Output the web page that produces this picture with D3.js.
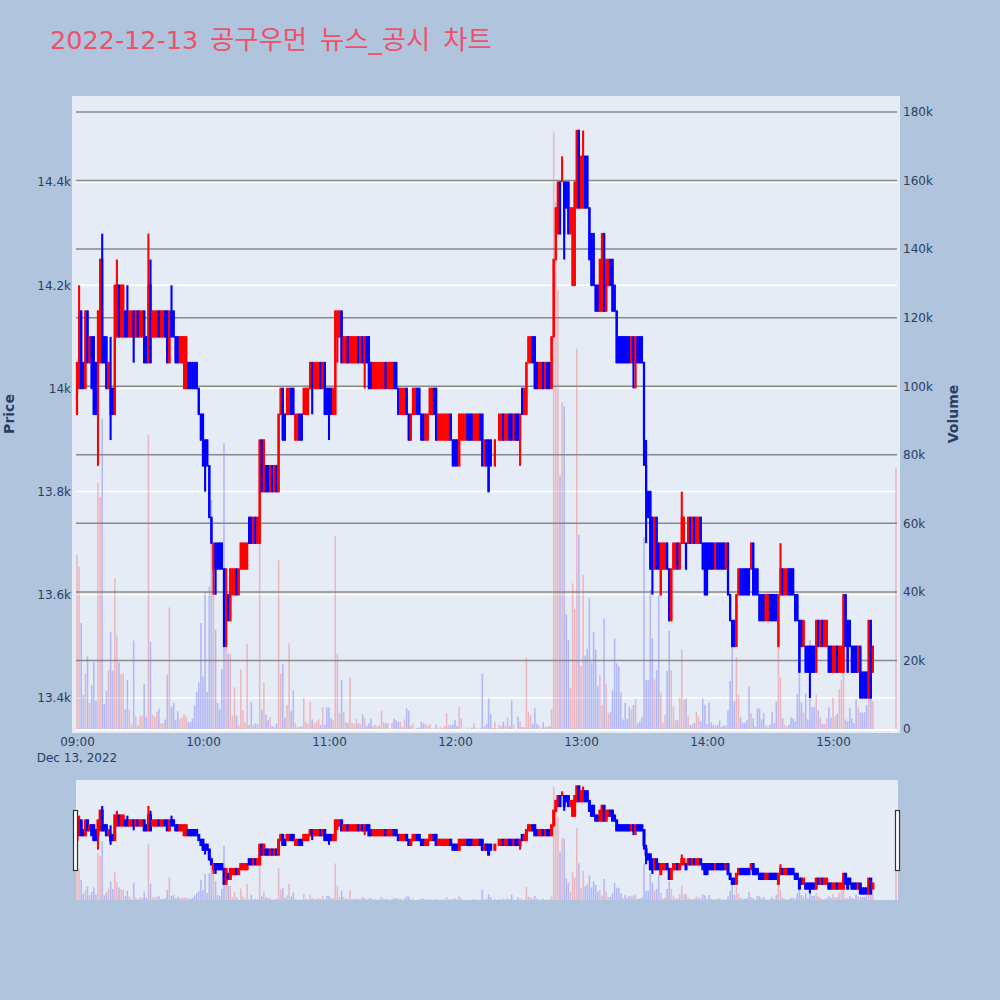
<!DOCTYPE html>
<html>
<head>
<meta charset="utf-8">
<script src="https://cdn.jsdelivr.net/npm/d3@7"></script>
<style>
  html, body { margin: 0; padding: 0; background: #B0C4DE; }
  svg { display: block; }
  text { font-family: "DejaVu Sans", "Noto Sans CJK KR", sans-serif; }
</style>
</head>
<body>
<div id="chart"></div>
<script>
const titleDate = "2022-12-13"
const titleName = "공구우먼 뉴스_공시 차트"
const dateLabel = "Dec 13, 2022"

const priceTicks = [13400, 13600, 13800, 14000, 14200, 14400]
const volumeTicks = [0, 20000, 40000, 60000, 80000, 100000, 120000, 140000, 160000, 180000]

// minutes after 09:00, the tape stops at 15:19 and prints once more at 15:30
const minutes = d3.range(380).concat([390])

const opens = [
  13950,14000,14150,14050,14000,14150,14050,14100,14100,14050,
  14000,14050,14250,14100,14100,14000,14000,14000,13950,14100,
  14200,14100,14100,14150,14150,14100,14100,14150,14100,14150,
  14100,14100,14150,14100,14050,14200,14100,14100,14100,14150,
  14100,14100,14150,14150,14050,14150,14150,14100,14100,14050,
  14050,14000,14000,14050,14050,14050,14050,14050,14000,13950,
  13950,13900,13900,13850,13750,13650,13700,13700,13700,13700,
  13650,13500,13600,13550,13600,13600,13650,13600,13650,13650,
  13650,13650,13750,13750,13700,13750,13700,13700,13900,13800,
  13850,13850,13800,13850,13800,13850,13800,13950,14000,13950,
  13950,13950,14000,14000,13900,13900,13950,13950,13950,13950,
  13950,14000,14050,14000,14000,14000,14050,14000,14050,14000,
  14000,14000,13950,13950,14100,14100,14150,14050,14050,14100,
  14050,14050,14050,14050,14100,14050,14100,14050,14100,14100,
  14050,14000,14000,14000,14000,14000,14000,14050,14000,14000,
  14000,14050,14050,14000,13950,13950,13950,14000,13950,13900,
  13950,13950,14000,14000,13950,13950,13900,13900,13950,13950,
  14000,14000,13900,13900,13900,13900,13900,13900,13950,13900,
  13900,13900,13850,13900,13900,13900,13950,13950,13950,13900,
  13900,13900,13950,13950,13850,13900,13900,13900,13900,13850,
  13900,13900,13900,13950,13900,13900,13950,13950,13900,13950,
  13950,13900,14000,13950,13950,14050,14050,14100,14100,14050,
  14000,14000,14050,14000,14050,14050,14000,14100,14250,14300,
  14400,14400,14400,14400,14400,14300,14200,14200,14350,14500,
  14350,14350,14450,14450,14350,14300,14300,14200,14200,14150,
  14150,14300,14150,14200,14250,14250,14200,14150,14100,14100,
  14100,14100,14100,14100,14050,14100,14050,14100,14100,14100,
  14050,13850,13800,13800,13750,13650,13750,13700,13600,13650,
  13650,13700,13650,13550,13650,13650,13700,13650,13700,13700,
  13700,13700,13750,13700,13750,13700,13700,13750,13700,13700,
  13700,13700,13700,13700,13650,13700,13700,13700,13700,13650,
  13700,13600,13550,13550,13500,13600,13650,13650,13650,13650,
  13650,13650,13700,13650,13650,13600,13600,13600,13550,13550,
  13600,13600,13600,13600,13500,13600,13650,13600,13600,13650,
  13650,13650,13600,13600,13550,13550,13500,13500,13500,13500,
  13500,13500,13450,13550,13500,13550,13500,13500,13500,13500,
  13450,13450,13500,13450,13450,13450,13600,13550,13550,13500,
  13500,13500,13450,13500,13450,13450,13450,13400,13550,13450,
  13550
]

const closes = [
  14050,14150,14000,14000,14150,14050,14100,14000,13950,13950,
  14150,14250,14050,14050,14000,14050,13950,13950,14200,14200,
  14100,14200,14200,14100,14100,14150,14150,14100,14150,14100,
  14150,14150,14050,14050,14200,14050,14150,14150,14150,14100,
  14150,14150,14100,14050,14150,14100,14100,14050,14050,14100,
  14100,14100,14100,14000,14000,14000,14000,14000,13950,13900,
  13850,13850,13850,13750,13700,13700,13650,13650,13650,13650,
  13500,13650,13550,13650,13650,13650,13600,13650,13700,13700,
  13700,13700,13700,13700,13750,13700,13750,13900,13800,13900,
  13800,13800,13850,13800,13850,13800,13950,14000,13900,13900,
  14000,14000,13950,13950,13950,13950,13900,13900,14000,14000,
  14000,14050,14000,14050,14050,14050,14000,14050,13950,13950,
  13950,13950,14000,14150,14150,14150,14050,14100,14100,14050,
  14100,14100,14100,14100,14050,14100,14050,14100,14050,14000,
  14000,14050,14050,14050,14050,14050,14050,14000,14050,14050,
  14050,14000,14000,13950,14000,14000,14000,13950,13900,13950,
  14000,14000,13950,13950,13900,13900,13950,13950,14000,14000,
  13950,13900,13950,13950,13950,13950,13950,13950,13900,13850,
  13850,13850,13950,13950,13950,13950,13900,13900,13900,13950,
  13950,13950,13900,13850,13900,13850,13800,13850,13900,13900,
  13900,13950,13950,13900,13950,13950,13900,13900,13950,13900,
  13900,13950,13950,14000,14050,14100,14100,14050,14000,14000,
  14050,14050,14000,14050,14000,14000,14100,14250,14350,14400,
  14300,14400,14300,14350,14300,14350,14350,14400,14500,14350,
  14450,14450,14350,14350,14250,14200,14200,14150,14150,14250,
  14300,14150,14250,14250,14200,14150,14150,14050,14050,14050,
  14050,14050,14050,14050,14100,14050,14100,14050,14050,14050,
  13900,13800,13750,13650,13650,13750,13650,13650,13700,13700,
  13700,13650,13550,13650,13700,13700,13650,13700,13750,13750,
  13650,13750,13700,13750,13700,13750,13750,13700,13650,13600,
  13600,13650,13650,13650,13700,13650,13650,13650,13650,13700,
  13600,13550,13500,13500,13600,13650,13600,13600,13600,13600,
  13600,13700,13600,13600,13600,13550,13550,13550,13600,13600,
  13550,13550,13550,13550,13600,13650,13600,13650,13650,13600,
  13600,13600,13550,13550,13450,13500,13550,13450,13450,13450,
  13450,13450,13550,13500,13550,13500,13550,13550,13450,13450,
  13500,13500,13450,13500,13500,13600,13500,13450,13500,13450,
  13450,13450,13500,13400,13400,13400,13400,13550,13400,13500,
  13550
]

// candles whose wick pokes out of the body: [index, price]
const highWicks = [[1,14200],[12,14300],[16,14100],[19,14250],[24,14200],[34,14300],[35,14250],[45,14200],
  [231,14450],[241,14500],[271,13900],[288,13800],[335,13700]]
const lowWicks = [[10,13850],[16,13900],[27,14050],[61,13800],[65,13600],[66,13600],[112,13950],[120,13900],
  [124,14050],[137,14000],[211,13850],[232,14250],[265,14000],[266,14000],[270,13850],[271,13700],[274,13600],[349,13400]]

const volumes = [
  50800,47300,30900,9900,16200,21200,7600,12800,19500,8200,
  71800,67700,90400,7300,11200,17200,28200,17000,43900,27300,
  19400,15900,16200,5800,14300,5600,1300,25800,3600,1000,
  3900,3900,13100,3500,85800,25400,4100,3600,5000,5900,
  1600,1700,2800,15700,35500,6400,7600,2600,5200,2900,
  3400,4300,3600,2200,2000,3100,6900,10800,13600,30900,
  15300,40000,10800,41500,66800,39600,28900,7600,5800,17500,
  83400,24000,22000,21900,3900,12200,3900,1200,17500,5400,
  1900,24800,1200,7800,1100,1700,1400,54300,5600,13600,
  4200,2600,3600,900,500,1600,49200,16200,18900,3300,
  7000,25000,5200,11300,1700,600,600,800,9200,2200,
  1500,7800,2800,1600,1900,2800,1200,6300,1300,6300,
  6300,3200,2600,56300,21900,4700,14400,5000,2000,1700,
  15000,1800,1500,3000,1700,1300,4300,3200,1000,1700,
  3000,900,1300,800,1000,5300,2000,1600,1700,100,
  1800,3000,2500,2000,2100,700,2800,6000,5300,900,
  1600,0,300,400,2100,1700,1500,800,1400,100,
  100,1300,200,700,300,900,4600,1200,1100,1300,
  2700,900,6500,3100,0,0,400,0,400,1700,
  400,0,300,16200,700,1500,8900,4300,300,2000,
  200,1200,900,2100,1000,3400,900,8300,1200,0,
  3600,2200,600,600,20700,5000,4000,1600,6000,1500,
  1000,100,2000,700,600,900,5800,174000,153800,128000,
  74000,95200,94200,33500,26000,11900,42500,35000,111000,56600,
  18400,45000,21400,23400,38000,19500,28400,23200,12600,15800,
  7000,32300,13200,4600,5000,11200,26300,19200,18200,10700,
  2800,7600,2900,6500,5800,7000,8800,1700,2200,3400,
  56000,14300,14300,40600,26500,14500,17200,39000,10600,1800,
  4100,16900,28600,17200,6500,2600,2500,9200,23200,8500,
  8900,3800,1200,1300,1800,5000,3600,2300,8800,7100,
  1500,7600,1900,1100,1200,1100,2500,600,1100,1000,
  5300,14000,24000,8000,21000,9900,3400,1800,1700,2600,
  12400,4600,3100,700,6000,6000,2800,4600,1000,700,
  1200,5000,1700,8000,24000,15000,3100,1200,900,1200,
  3400,3100,2300,10200,27000,7700,4800,10400,2800,26000,
  6300,6500,10000,5500,3400,1500,1500,3100,6300,3300,
  9200,3600,4400,11600,14300,16700,2800,2300,6200,3100,
  1700,8700,6300,4800,4800,4900,7000,12000,15300,8200,
  76000
]

const width = 1000
const height = 1000

const RED = "#ff0000"
const BLUE = "#0000ff"
const INK = "#2a3f5f"

const highWickAt = new Map(highWicks)
const lowWickAt = new Map(lowWicks)

const candles = minutes.map((m, i) => ({
  t: new Date(2022, 11, 13, 9, m),
  open: opens[i],
  close: closes[i],
  high: highWickAt.get(i) || Math.max(opens[i], closes[i]),
  low: lowWickAt.get(i) || Math.min(opens[i], closes[i]),
  volume: volumes[i],
  color: closes[i] >= opens[i] ? RED : BLUE
}))

const svg = d3.select("#chart").append("svg")
  .attr("width", width)
  .attr("height", height)

const x = d3.scaleTime()
  .domain([new Date(2022, 11, 13, 9, 0), new Date(2022, 11, 13, 15, 30)])
  .range([77, 896])

const yPrice = d3.scaleLinear().domain([13332, 14567]).range([733, 96])
const yVolume = d3.scaleLinear().domain([0, 184670]).range([729, 96])

const yPriceMini = d3.scaleLinear().domain([13332, 14567]).range([900, 780])
const yVolumeMini = d3.scaleLinear().domain([0, 184670]).range([900, 780])

/* title */

const title = svg.append("text")
  .attr("x", 50)
  .attr("y", 49)
  .attr("fill", "#ef5068")

title.append("tspan").attr("font-size", 25.5).text(titleDate)
title.append("tspan")
  .attr("x", 210)
  .attr("font-size", 26.4)
  .attr("word-spacing", 4.5)
  .text(titleName)

/* plot background */

svg.append("rect")
  .attr("x", 72).attr("y", 96)
  .attr("width", 828).attr("height", 637)
  .attr("fill", "#E5ECF6")

/* grids, price is white and volume grey */

svg.append("g")
  .selectAll("line")
  .data(priceTicks)
  .join("line")
  .attr("x1", 76).attr("x2", 897)
  .attr("y1", d => yPrice(d)).attr("y2", d => yPrice(d))
  .attr("stroke", "#ffffff")
  .attr("stroke-width", 1.5)

function drawVolume(g, yv, base) {
  g.selectAll("rect")
    .data(candles)
    .join("rect")
    .attr("x", d => x(d.t) - 0.8)
    .attr("width", 1.6)
    .attr("y", d => yv(d.volume))
    .attr("height", d => base - yv(d.volume))
    .attr("fill", d => d.color)
    .attr("opacity", 0.22)
}

drawVolume(svg.append("g"), yVolume, 729)

svg.append("g")
  .selectAll("line")
  .data(volumeTicks.slice(1))
  .join("line")
  .attr("x1", 76).attr("x2", 897)
  .attr("y1", d => yVolume(d)).attr("y2", d => yVolume(d))
  .attr("stroke", "#808080")
  .attr("stroke-width", 1.5)
  .attr("opacity", 0.9)

svg.append("line")
  .attr("x1", 76).attr("x2", 897)
  .attr("y1", yVolume(0) + 1).attr("y2", yVolume(0) + 1)
  .attr("stroke", "#ffffff")
  .attr("stroke-width", 2)

function drawCandles(g, yp, edge) {
  const c = g.selectAll("g")
    .data(candles)
    .join("g")

  c.append("line")
    .attr("x1", d => x(d.t)).attr("x2", d => x(d.t))
    .attr("y1", d => yp(d.high)).attr("y2", d => yp(d.low))
    .attr("stroke", d => d.color)
    .attr("stroke-width", 2.1)

  c.append("rect")
    .attr("x", d => x(d.t) - 0.3)
    .attr("width", 0.6)
    .attr("y", d => yp(Math.max(d.open, d.close)))
    .attr("height", d => Math.abs(yp(d.open) - yp(d.close)))
    .attr("fill", d => d.color)
    .attr("stroke", d => d.color)
    .attr("stroke-width", edge)
}

drawCandles(svg.append("g"), yPrice, 1.6)

/* axes */

function styleAxis(g) {
  g.select(".domain").remove()
  g.selectAll("line").remove()
  g.selectAll("text")
    .attr("fill", INK)
    .attr("font-size", 12)
}

const siK = d => d3.format(".4~s")(d)

svg.append("g")
  .attr("transform", "translate(71,0)")
  .call(d3.axisLeft(yPrice).tickValues(priceTicks).tickFormat(siK).tickSize(0).tickPadding(0))
  .call(styleAxis)

svg.append("g")
  .attr("transform", "translate(903,0)")
  .call(d3.axisRight(yVolume).tickValues(volumeTicks).tickFormat(d3.format("~s")).tickSize(0).tickPadding(0))
  .call(styleAxis)

svg.append("g")
  .attr("transform", "translate(0,733)")
  .call(d3.axisBottom(x).ticks(d3.timeHour.every(1)).tickFormat(d3.timeFormat("%H:%M")).tickSize(0).tickPadding(4))
  .call(styleAxis)

svg.append("text")
  .attr("x", 77)
  .attr("y", 762)
  .attr("text-anchor", "middle")
  .attr("font-size", 12)
  .attr("fill", INK)
  .text(dateLabel)

svg.append("text")
  .attr("transform", "translate(14,414) rotate(-90)")
  .attr("text-anchor", "middle")
  .attr("font-size", 14)
  .attr("font-weight", "bold")
  .attr("fill", INK)
  .text("Price")

svg.append("text")
  .attr("transform", "translate(958,414) rotate(-90)")
  .attr("text-anchor", "middle")
  .attr("font-size", 14)
  .attr("font-weight", "bold")
  .attr("fill", INK)
  .text("Volume")

/* range slider */

svg.append("rect")
  .attr("x", 76).attr("y", 780)
  .attr("width", 822).attr("height", 120)
  .attr("fill", "#E5ECF6")

drawVolume(svg.append("g"), yVolumeMini, 900)
drawCandles(svg.append("g"), yPriceMini, 2.4)

svg.append("g")
  .selectAll("rect")
  .data([73.5, 895.5])
  .join("rect")
  .attr("x", d => d)
  .attr("y", 810.5)
  .attr("width", 4)
  .attr("height", 60)
  .attr("fill", "#ffffff")
  .attr("stroke", "#333333")
  .attr("stroke-width", 1.2)
</script>
</body>
</html>
